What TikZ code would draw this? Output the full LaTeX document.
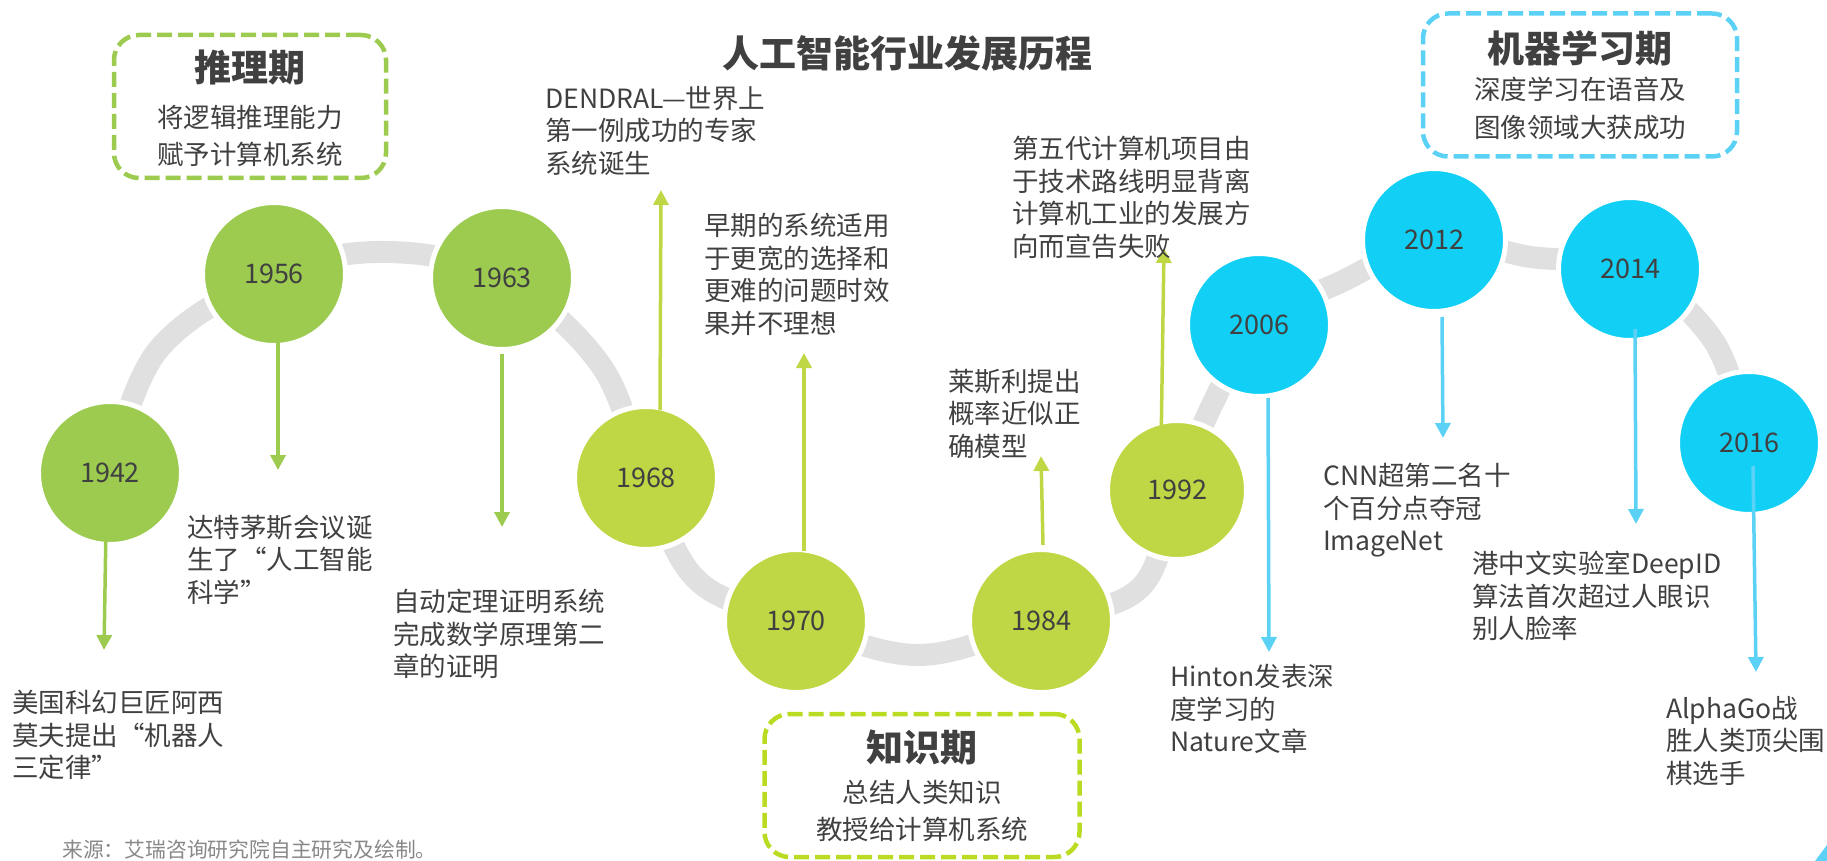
\documentclass[tikz,border=0pt]{standalone}
\usepackage{fontspec}
\setmainfont{Noto Sans CJK SC}
\usetikzlibrary{arrows.meta}
\definecolor{gA}{HTML}{9CCB50}
\definecolor{gB}{HTML}{BFD744}
\definecolor{gBox}{HTML}{B9DC22}
\definecolor{cyC}{HTML}{12D0F5}
\definecolor{cyL}{HTML}{5BD2F5}
\definecolor{bandgrey}{HTML}{E0E0E0}
\definecolor{txt}{HTML}{404040}
\definecolor{srcgrey}{HTML}{888888}
\begin{document}
\begin{tikzpicture}[x=1pt,y=-1pt,
  yr/.style={circle,draw=white,line width=5pt,minimum size=143pt,inner sep=0pt,text=txt,font=\fontsize{27}{30}\selectfont},
  yrA/.style={yr,fill=gA},
  yrB/.style={yr,fill=gB},
  yrC/.style={yr,fill=cyC},
  arrA/.style={draw=gA,line width=3.5pt,-{Triangle[width=15pt,length=15pt]}},
  arrB/.style={draw=gB,line width=3.5pt,-{Triangle[width=15pt,length=15pt]}},
  arrC/.style={draw=cyL,line width=3.5pt,-{Triangle[width=15pt,length=15pt]}},
  desc/.style={anchor=north west,inner sep=0pt,align=left,text=txt,font=\fontsize{26.5}{32.5}\selectfont},
  phasebox/.style={draw=#1,line width=4.5pt,dash pattern=on 15pt off 6pt,rounded corners=25pt,minimum height=143pt,inner sep=0pt},
  phasetitle/.style={inner sep=0pt,text=txt,font=\fontsize{37}{40}\selectfont\bfseries},
  phasesub/.style={inner sep=0pt,align=center,text=txt,font=\fontsize{26.5}{37.5}\selectfont}
]
\useasboundingbox (0,0) rectangle (1827,861);

% centres
\coordinate (c1942) at (110,473);
\coordinate (c1956) at (274,274);
\coordinate (c1963) at (502,278);
\coordinate (c1968) at (646,478);
\coordinate (c1970) at (796,621);
\coordinate (c1984) at (1041,621);
\coordinate (c1992) at (1177,490);
\coordinate (c2006) at (1259,325);
\coordinate (c2012) at (1434,240);
\coordinate (c2014) at (1630,269);
\coordinate (c2016) at (1749,443);

% grey band
\draw[bandgrey,line width=22pt] plot[smooth,tension=0.6] coordinates {(c1942) (158,350) (c1956) (388,252) (c1963) (600,364) (c1968) (697,580) (c1970) (918,655) (c1984) (1140,588) (c1992) (1213,403) (c2006) (1345,280) (c2012) (1531,257) (c2014) (1713,340) (c2016)};

% circles
\node[yrA] (n1942) at (c1942) {1942};
\node[yrA] (n1956) at (c1956) {1956};
\node[yrA] (n1963) at (c1963) {1963};
\node[yrB] (n1968) at (c1968) {1968};
\node[yrB] (n1970) at (c1970) {1970};
\node[yrB] (n1984) at (c1984) {1984};
\node[yrB,minimum size=139pt] (n1992) at (c1992) {1992};
\node[yrC] (n2006) at (c2006) {2006};
\node[yrC] (n2012) at (c2012) {2012};
\node[yrC] (n2014) at (c2014) {2014};
\node[yrC] (n2016) at (c2016) {2016};

% arrow end points
\coordinate (s1942) at (106,527);  \coordinate (t1942) at (104,650);
\coordinate (s1956) at (278,311);  \coordinate (t1956) at (278,470);
\coordinate (s1963) at (502,354);  \coordinate (t1963) at (502,527);
\coordinate (s1968) at (660,410);  \coordinate (t1968) at (661,190);
\coordinate (s1970) at (804,551);  \coordinate (t1970) at (804,353);
\coordinate (s1984) at (1043,545); \coordinate (t1984) at (1041,456);
\coordinate (s1992) at (1161,450); \coordinate (t1992) at (1164,248);
\coordinate (s2006) at (1268,398); \coordinate (t2006) at (1269,652);
\coordinate (s2012) at (1442,317); \coordinate (t2012) at (1443,438);
\coordinate (s2014) at (1635,329); \coordinate (t2014) at (1636,524);
\coordinate (s2016) at (1753,466); \coordinate (t2016) at (1756,672);

\draw[arrA] (s1942) -- (t1942);
\draw[arrA] (s1956) -- (t1956);
\draw[arrA] (s1963) -- (t1963);
\draw[arrB] (s1968) -- (t1968);
\draw[arrB] (s1970) -- (t1970);
\draw[arrB] (s1984) -- (t1984);
\draw[arrB] (s1992) -- (t1992);
\draw[arrC] (s2006) -- (t2006);
\draw[arrC] (s2012) -- (t2012);
\draw[arrC] (s2014) -- (t2014);
\draw[arrC] (s2016) -- (t2016);

% descriptions
\node[desc] (d1942) at (12,690) {美国科幻巨匠阿西\\莫夫提出“机器人\\三定律”};
\node[desc] (d1956) at (187,515) {达特茅斯会议诞\\生了“人工智能\\科学”};
\node[desc] (d1963) at (393,589) {自动定理证明系统\\完成数学原理第二\\章的证明};
\node[desc] (d1968) at (545,86) {DENDRAL—世界上\\第一例成功的专家\\系统诞生};
\node[desc] (d1970) at (704,213) {早期的系统适用\\于更宽的选择和\\更难的问题时效\\果并不理想};
\node[desc] (d1984) at (948,369) {莱斯利提出\\概率近似正\\确模型};
\node[desc] (d1992) at (1012,136) {第五代计算机项目由\\于技术路线明显背离\\计算机工业的发展方\\向而宣告失败};
\node[desc] (d2006) at (1170,664) {Hinton发表深\\度学习的\\Nature文章};
\node[desc] (d2012) at (1323,463) {CNN超第二名十\\个百分点夺冠\\ImageNet};
\node[desc] (d2014) at (1472,551) {港中文实验室DeepID\\算法首次超过人眼识\\别人脸率};
\node[desc] (d2016) at (1666,696) {AlphaGo战\\胜人类顶尖围\\棋选手};

% title
\node[phasetitle] (title) at (907,53) {人工智能行业发展历程};

% phase boxes
\node[phasebox=gA,minimum width=272pt] (box1) at (250,106.5) {};
\node[phasetitle] (box1t) at (250,68) {推理期};
\node[phasesub] (box1s) at (250,136) {将逻辑推理能力\\赋予计算机系统};

\node[phasebox=gBox,minimum width=315pt] (box2) at (922,785.5) {};
\node[phasetitle] (box2t) at (922,748) {知识期};
\node[phasesub] (box2s) at (922,811) {总结人类知识\\教授给计算机系统};

\node[phasebox=cyL,minimum width=314pt] (box3) at (1580,85) {};
\node[phasetitle] (box3t) at (1580,48) {机器学习期};
\node[phasesub] (box3s) at (1580,108.5) {深度学习在语音及\\图像领域大获成功};

% source
\node[anchor=west,inner sep=0pt,text=srcgrey,font=\fontsize{20.8}{24}\selectfont] (source) at (62,850) {来源：艾瑞咨询研究院自主研究及绘制。};

% corner fragment
\fill[cyL] (1815,861) -- (1827,845) -- (1827,861) -- cycle;
\end{tikzpicture}
\end{document}
